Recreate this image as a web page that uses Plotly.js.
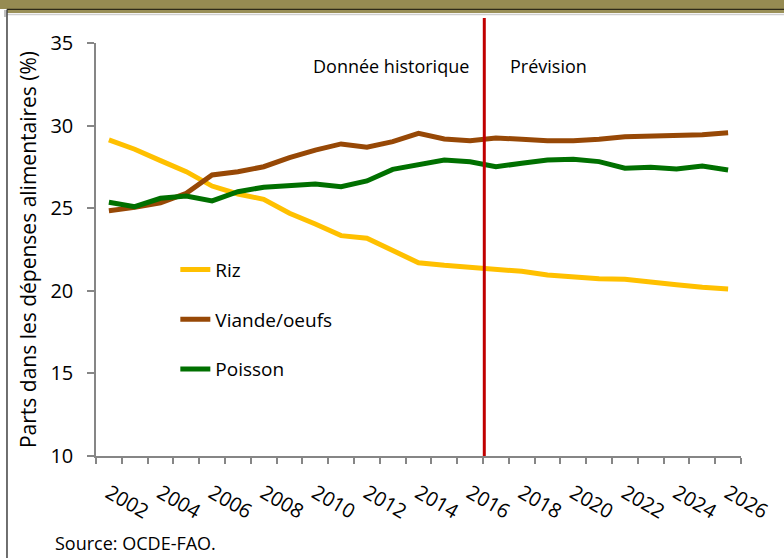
<!DOCTYPE html>
<html>
<head>
<meta charset="utf-8">
<script src="https://cdn.plot.ly/plotly-3.0.1.min.js"></script>
<style>
  html, body { margin: 0; padding: 0; background: #ffffff; }
  #chart { width: 784px; height: 558px; }
</style>
</head>
<body>
<div id="chart"></div>
<script>
// ---- Data ----
const years = [2002, 2003, 2004, 2005, 2006, 2007, 2008, 2009, 2010, 2011, 2012, 2013, 2014,
               2015, 2016, 2017, 2018, 2019, 2020, 2021, 2022, 2023, 2024, 2025, 2026];
const riz = [29.13, 28.57, 27.88, 27.21, 26.34, 25.86, 25.54, 24.69, 24.04, 23.34, 23.18, 22.43, 21.70,
             21.54, 21.42, 21.36, 21.18, 20.96, 20.85, 20.73, 20.70, 20.51, 20.37, 20.21, 20.11];
const viande = [24.85, 25.05, 25.33, 25.90, 27.01, 27.21, 27.51, 28.06, 28.52, 28.89, 28.69, 29.03, 29.53,
                29.19, 29.09, 29.25, 29.17, 29.09, 29.09, 29.17, 29.33, 29.37, 29.47, 29.45, 29.57];
const poisson = [25.36, 25.09, 25.60, 25.74, 25.44, 26.00, 26.27, 26.34, 26.46, 26.30, 26.65, 27.35, 27.61,
                 27.92, 27.81, 27.51, 27.72, 27.92, 27.96, 27.82, 27.42, 27.48, 27.37, 27.55, 27.31];
const seriesNames = ["Riz", "Viande/oeufs", "Poisson"];
const tickYears = [2002, 2004, 2006, 2008, 2010, 2012, 2014, 2016, 2018, 2020, 2022, 2024, 2026];
const tickLabels = tickYears.map(String);
const splitYear = 2016.55;
const yTitle = "Parts dans les dépenses alimentaires (%)";
const labelHistory = "Donnée historique";
const labelForecast = "Prévision";
const sourceText = "Source: OCDE-FAO.";

const FONT = "Open Sans, Lato, sans-serif";
const colors = ["#FFC000", "#974806", "#007000"];
const seriesValues = [riz, viande, poisson];

const traces = seriesValues.map((vals, i) => ({
  type: "scatter",
  mode: "lines",
  x: years,
  y: vals,
  name: seriesNames[i],
  legendgroup: "g" + i,
  line: { color: colors[i], width: 5 },
  hoverinfo: "x+y+name"
}));

const axisGray = "#868686";
const layout = {
  width: 784,
  height: 558,
  margin: { l: 96, r: 43, t: 43, b: 102 },
  paper_bgcolor: "#ffffff",
  plot_bgcolor: "#ffffff",
  font: { family: FONT, color: "#000000" },
  showlegend: true,
  legend: {
    x: 0.123, y: 0.497, xanchor: "left", yanchor: "top",
    bgcolor: "rgba(0,0,0,0)",
    font: { family: FONT, size: 19, color: "#000000" },
    traceorder: "grouped",
    tracegroupgap: 22
  },
  xaxis: {
    type: "linear",
    range: [2001.5, 2026.5],
    tickmode: "array",
    tickvals: tickYears,
    ticktext: tickLabels,
    ticks: "",
    tickangle: 30,
    tickfont: { family: FONT, size: 20, color: "#000000" },
    showline: true,
    linecolor: axisGray,
    linewidth: 1.5,
    showgrid: false,
    zeroline: false,
    ticklabelstandoff: 16,
    minor: { ticks: "outside", tick0: 2001.5, dtick: 1, ticklen: 6, tickcolor: axisGray, tickwidth: 1.5, showgrid: false }
  },
  yaxis: {
    range: [10, 35],
    dtick: 5,
    tick0: 10,
    ticks: "outside",
    ticklen: 7,
    tickcolor: axisGray,
    tickwidth: 1.5,
    showline: true,
    linecolor: axisGray,
    linewidth: 1.5,
    showgrid: false,
    zeroline: false,
    tickfont: { family: FONT, size: 20, color: "#000000" },
    ticklabelstandoff: 10,
    title: { text: yTitle, font: { family: FONT, size: 21, color: "#000000" }, standoff: 8 }
  },
  shapes: [
    // header band
    { type: "rect", xref: "paper", yref: "paper", x0: -0.1489, x1: 1.0667, y0: 1.0823, y1: 1.1041,
      fillcolor: "#968B52", line: { width: 0 }, layer: "above" },
    { type: "line", xref: "paper", yref: "paper", x0: -0.1380, x1: 1.0667, y0: 1.0811, y1: 1.0811,
      line: { color: "#2e2a18", width: 1.5 }, layer: "above" },
    { type: "rect", xref: "paper", yref: "paper", x0: -0.1380, x1: 1.0667, y0: 1.0726, y1: 1.0799,
      fillcolor: "#9A9058", line: { width: 0 }, layer: "above" },
    { type: "line", xref: "paper", yref: "paper", x0: -0.1380, x1: 1.0667, y0: 1.0690, y1: 1.0690,
      line: { color: "#cfcfcf", width: 1.5 }, layer: "above" },
    { type: "line", xref: "paper", yref: "paper", x0: -0.1411, x1: -0.1411, y0: 1.0799, y1: 1.0630,
      line: { color: "#c0c0c0", width: 2 }, layer: "above" },
    // left border
    { type: "line", xref: "paper", yref: "paper", x0: -0.1380, x1: -0.1380, y0: 1.0811, y1: -0.2470,
      line: { color: "#404040", width: 1.5 }, layer: "above" },
    // history / forecast separator
    { type: "line", xref: "x", yref: "paper", x0: splitYear, x1: splitYear, y0: 0, y1: 1.0605,
      line: { color: "#C00000", width: 3 }, layer: "above" }
  ],
  annotations: [
    { text: labelHistory, xref: "paper", yref: "paper", x: 0.4574, y: 0.9443, xanchor: "center", yanchor: "middle",
      showarrow: false, font: { family: FONT, size: 18, color: "#000000" } },
    { text: labelForecast, xref: "paper", yref: "paper", x: 0.7008, y: 0.9443, xanchor: "center", yanchor: "middle",
      showarrow: false, font: { family: FONT, size: 18, color: "#000000" } },
    { text: sourceText, xref: "paper", yref: "paper", x: -0.0667, y: -0.2107, xanchor: "left", yanchor: "middle",
      showarrow: false, font: { family: FONT, size: 18, color: "#000000" } }
  ]
};

Plotly.newPlot("chart", traces, layout, { displayModeBar: false, responsive: false });
</script>
</body>
</html>
